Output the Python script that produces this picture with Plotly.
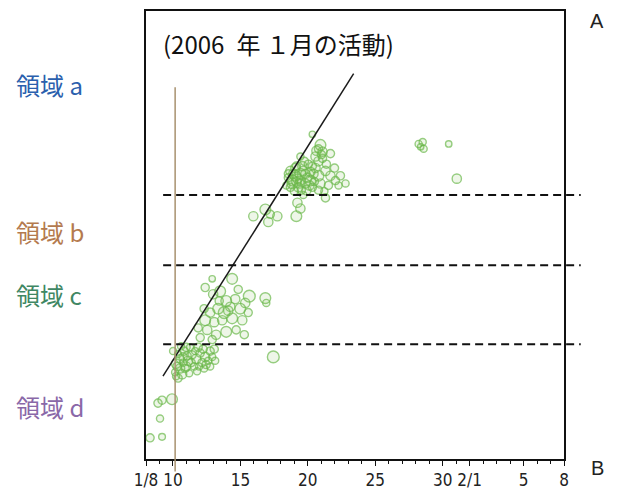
import plotly.graph_objects as go

# Event catalogue, January 2006: day of January (Feb days continue past 31),
# position along the profile, and magnitude.
day = [
    # region d
    8.30, 9.19, 9.04, 8.89, 9.19, 9.93,
    # swarm near the start line
    10.38, 10.68, 10.90, 10.23, 10.53, 11.12, 11.42, 11.72, 12.02, 12.39,
    12.76, 10.83, 11.27, 11.87, 10.38, 10.97, 11.57, 12.16, 12.61, 10.53,
    10.16, 10.75, 12.91, 11.79, 10.01, 10.60, 11.20, 12.31, 13.13, 13.06,
    10.97, 17.44,
    10.30, 10.75, 11.35, 11.94, 12.46, 10.23, 11.05, 11.64, 12.24, 12.76,
    # region c
    12.91, 14.39, 15.66, 16.85, 16.92, 12.39, 12.98, 13.50, 13.95, 14.62,
    14.99, 14.10, 13.35, 12.76, 12.39, 13.06, 13.65, 14.39, 15.14, 14.69,
    13.95, 13.20, 12.54, 11.87, 12.02, 12.91, 15.36, 14.84, 13.80, 14.25,
    15.58, 15.29, 12.31, 13.43,
    # region b
    15.96, 16.85, 17.74, 17.07, 19.23, 19.45, 19.15, 21.31, 17.22,
    # region a
    20.34, 20.94, 21.09, 20.79, 21.68, 20.57, 18.71, 19.08, 19.45, 18.86,
    19.30, 19.82, 20.19, 19.60, 20.04, 20.57, 20.79, 20.94, 21.31, 21.68,
    22.05, 21.53, 22.42, 22.80, 20.34, 19.90, 19.15, 18.56, 19.00, 20.79,
    21.09, 21.38, 21.98, 22.28, 19.45, 18.41, 20.42, 19.45, 18.86, 19.82,
    21.23, 20.79, 19.67, 20.64, 21.01,
    18.93, 19.23, 19.67, 19.97, 19.38, 18.71, 19.08, 20.19, 20.49, 20.12,
    19.52, 19.15, 18.56, 20.34, 19.75,
    # late events
    28.22, 28.52, 28.59, 28.37, 30.45, 31.05,
]
pos = [
    22, 23, 42, 58, 61, 62,
    84, 88, 94, 99, 104, 102, 108, 104, 110, 106,
    112, 112, 116, 116, 109, 96, 96, 100, 102, 94,
    90, 100, 106, 91, 112, 117, 89, 94, 102, 114,
    116, 106,
    96, 106, 100, 96, 98, 86, 107, 112, 114, 96,
    187, 187, 169, 167, 162, 178, 171, 174, 164, 166,
    156, 154, 156, 152, 144, 142, 144, 146, 144, 134,
    132, 129, 134, 136, 126, 124, 162, 176, 152, 158,
    152, 129, 156, 164,
    252, 259, 252, 246, 266, 260, 252, 271, 254,
    337, 326, 319, 322, 317, 314, 299, 294, 289, 286,
    282, 296, 289, 304, 306, 302, 294, 286, 299, 294,
    289, 284, 294, 286, 282, 279, 304, 292, 278, 309,
    312, 306, 302, 284, 314, 284, 296, 296, 289, 286,
    278, 279, 274, 320, 316,
    296, 291, 299, 292, 286, 282, 302, 298, 288, 284,
    279, 288, 296, 304, 309,
    327, 329, 322, 324, 327, 291,
]
mag = [
    1.3, 0.9, 1.0, 1.3, 1.3, 2.0,
    1.3, 1.6, 1.3, 1.6, 1.3, 1.6, 1.3, 1.6, 1.3, 1.6,
    1.3, 1.3, 1.0, 1.3, 1.0, 1.6, 1.0, 1.3, 1.0, 1.6,
    1.0, 1.0, 1.0, 1.0, 1.0, 1.0, 1.0, 1.0, 1.0, 1.3,
    1.3, 2.3,
    1.3, 1.3, 1.3, 1.0, 1.3, 1.0, 1.3, 1.0, 1.3, 1.0,
    0.8, 2.0, 2.3, 2.0, 1.0, 1.3, 1.6, 2.0, 2.0, 1.6,
    2.0, 1.6, 2.0, 1.6, 2.0, 1.6, 1.6, 2.0, 1.6, 1.3,
    2.0, 1.6, 1.6, 1.3, 1.3, 1.3, 1.6, 1.3, 2.3, 1.6,
    1.3, 1.3, 1.3, 1.3,
    1.6, 2.0, 1.6, 1.6, 1.6, 1.6, 2.0, 1.3, 1.3,
    0.8, 2.0, 1.6, 1.3, 1.3, 1.6, 1.6, 2.0, 1.6, 2.0,
    1.6, 1.6, 2.0, 1.6, 1.3, 1.6, 2.0, 1.6, 1.6, 1.6,
    1.3, 1.3, 1.3, 1.0, 1.3, 1.6, 1.3, 1.3, 1.3, 1.6,
    1.3, 1.3, 1.3, 1.0, 1.0, 1.0, 1.6, 2.0, 2.0, 1.6,
    1.0, 1.3, 1.0, 1.6, 1.3,
    1.6, 1.6, 1.6, 1.6, 1.6, 1.3, 1.6, 1.6, 1.3, 1.6,
    1.3, 1.6, 1.3, 1.3, 1.3,
    1.0, 1.0, 1.0, 0.8, 0.8, 1.6,
]

# Migration front fitted through the swarm
front_day = [9.26, 23.40]
front_pos = [86, 400]

# Start of the activity and boundaries between regions a/b/c/d
start_day = 10.16
boundaries = [274, 201, 119]

# Axis ticks
tick_vals = [8, 10, 15, 20, 25, 30, 32, 36, 39]
tick_text = ["1/8", "10", "15", "20", "25", "30", "2/1", "5", "8"]

# Region labels (text, colour, position)
region_names = ["領域 a", "領域 b", "領域 c", "領域 d"]
region_colors = ["#2b5fad", "#b47a4e", "#3f8763", "#8a68a8"]
region_pos = [389, 236, 171, 55]

sizes = [3.5 + 3.6 * m for m in mag]

fig = go.Figure()
fig.add_trace(go.Scatter(
    x=day, y=pos, mode="markers",
    marker=dict(symbol="circle", size=sizes,
                color="rgba(120,190,80,0.18)",
                line=dict(color="#6ab84a", width=1.4)),
    hoverinfo="skip", showlegend=False,
))
fig.add_trace(go.Scatter(
    x=front_day, y=front_pos, mode="lines",
    line=dict(color="#1a1a1a", width=1.5),
    hoverinfo="skip", showlegend=False,
))

# start line, reaching just below the time axis
fig.add_shape(type="line", xref="x", yref="paper",
              x0=start_day, x1=start_day, y0=-0.028, y1=0.83,
              line=dict(color="#a8916f", width=1.5))

for b in boundaries:
    fig.add_shape(type="line", xref="paper", yref="y",
                  x0=0.041, x1=1.04, y0=b, y1=b,
                  line=dict(color="#111111", width=2, dash="8px,5px"))

for name, col, yp in zip(region_names, region_colors, region_pos):
    fig.add_annotation(text=name, xref="paper", yref="y",
                       x=-0.315, y=yp, xanchor="left", yanchor="middle",
                       showarrow=False,
                       font=dict(family="Noto Sans CJK JP", size=24, color=col))

fig.add_annotation(text="(2006\u2002年 １月の活動)", xref="paper", yref="paper",
                   x=0.036, y=0.928, xanchor="left", yanchor="middle",
                   showarrow=False,
                   font=dict(family="Noto Sans CJK JP", size=24, color="#111111"))
fig.add_annotation(text="A", xref="paper", yref="paper",
                   x=1.078, y=0.977, xanchor="center", yanchor="middle",
                   showarrow=False,
                   font=dict(family="Liberation Sans, Arial, sans-serif", size=20, color="#222222"))
fig.add_annotation(text="B", xref="paper", yref="paper",
                   x=1.08, y=-0.02, xanchor="center", yanchor="middle",
                   showarrow=False,
                   font=dict(family="Liberation Sans, Arial, sans-serif", size=20, color="#222222"))

fig.update_xaxes(
    range=[8, 39], tickmode="array", tickvals=tick_vals, ticktext=tick_text,
    ticks="outside", ticklen=5, tickwidth=1.2, tickcolor="#111111",
    minor=dict(tickmode="linear", tick0=8, dtick=1, ticks="outside",
               ticklen=3, tickwidth=1, tickcolor="#111111"),
    showline=True, linecolor="#111111", linewidth=2, mirror=True,
    showgrid=False, zeroline=False,
    tickfont=dict(family="Liberation Sans Narrow, DejaVu Sans Condensed, sans-serif",
                  size=17, color="#222222"),
)
fig.update_yaxes(
    range=[0, 465], showticklabels=False, ticks="",
    showline=True, linecolor="#111111", linewidth=2, mirror=True,
    showgrid=False, zeroline=False,
)
fig.update_layout(
    width=619, height=499,
    margin=dict(l=146, r=55, t=9, b=25),
    paper_bgcolor="white", plot_bgcolor="white",
    showlegend=False,
)

fig.write_html("out.html")
